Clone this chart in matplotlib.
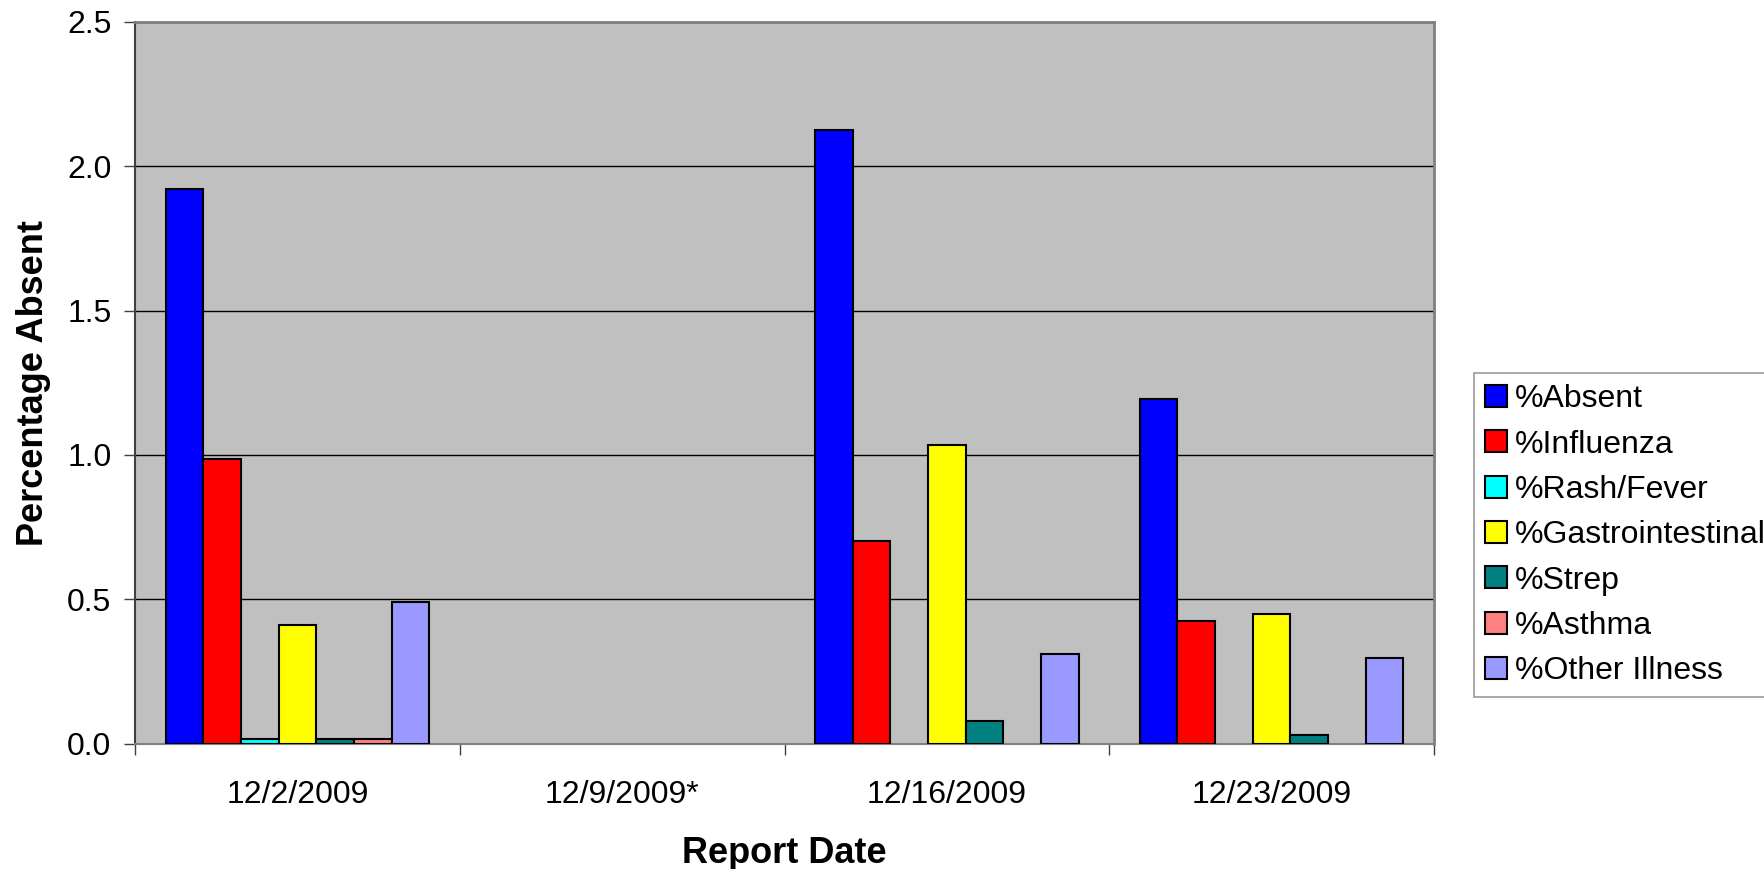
import numpy as np
import matplotlib
matplotlib.use('Agg')
import matplotlib.pyplot as plt
from matplotlib.patches import Patch

plt.rcParams['font.family'] = ['Liberation Sans', 'DejaVu Sans']

# data (nan = no report that week)
dates = ['12/2/2009', '12/9/2009*', '12/16/2009', '12/23/2009']
series = ['%Absent', '%Influenza', '%Rash/Fever', '%Gastrointestinal',
          '%Strep', '%Asthma', '%Other Illness']
absent = [1.922, np.nan, 2.127, 1.192]
influenza = [0.987, np.nan, 0.702, 0.424]
rash_fever = [0.015, np.nan, 0.0, 0.0]
gastro = [0.411, np.nan, 1.036, 0.448]
strep = [0.015, np.nan, 0.078, 0.028]
asthma = [0.015, np.nan, 0.0, 0.0]
other = [0.489, np.nan, 0.309, 0.296]
colors = ['#0000FF', '#FF0000', '#00FFFF', '#FFFF00', '#008080', '#FF8080', '#9999FF']

values = [absent, influenza, rash_fever, gastro, strep, asthma, other]

fig = plt.figure(figsize=(17.64, 8.69), dpi=100)
ax = fig.add_axes([135/1764, 1-743.5/869, 1299/1764, 721.5/869])
ax.set_facecolor('#C0C0C0')

x = np.arange(len(dates))
w = 0.116
for i, (vals, c) in enumerate(zip(values, colors)):
    v = np.array(vals, dtype=float)
    ok = ~np.isnan(v) & (v > 0)
    ax.bar(x[ok] + (i - 3) * w, v[ok], width=w, color=c,
           edgecolor='black', linewidth=1.5, zorder=3)

ax.set_xlim(-0.5, len(dates) - 0.5)
ax.set_ylim(0, 2.5)
ax.set_yticks(np.arange(0, 2.51, 0.5))
ax.set_yticklabels(['%.1f' % t for t in np.arange(0, 2.51, 0.5)])
ax.yaxis.grid(True, color='black', linewidth=1, zorder=1)
ax.set_axisbelow(True)

ax.set_xticks(x)
ax.set_xticklabels(dates)
ax.set_xticks(np.arange(-0.5, len(dates)), minor=True)
ax.tick_params(axis='x', which='major', length=0, pad=26, labelsize=23)
ax.tick_params(axis='x', which='minor', length=8, width=1, color='#404040')
ax.tick_params(axis='y', length=8, width=1, color='#404040', pad=9, labelsize=23)

for s in ['top', 'right']:
    ax.spines[s].set_color('#808080')
    ax.spines[s].set_linewidth(2)
ax.spines['left'].set_color('#404040')
ax.spines['left'].set_linewidth(1.5)
ax.spines['bottom'].set_color('#808080')
ax.spines['bottom'].set_linewidth(1.5)

ax.set_xlabel('Report Date', fontsize=26, fontweight='bold')
ax.xaxis.set_label_coords(0.5, -0.152)
ax.xaxis.label.set_va('center')
ax.set_ylabel('Percentage Absent', fontsize=26, fontweight='bold')
ax.yaxis.set_label_coords(-0.0778, 0.5)
ax.yaxis.label.set_va('center')

handles = [Patch(facecolor=c, edgecolor='black', linewidth=1.5) for c in colors]
leg = fig.legend(handles, series, loc='upper left',
                 bbox_to_anchor=(1474/1764, 1-373/869), fontsize=23,
                 frameon=True, fancybox=False, handlelength=0.68, handleheight=0.68,
                 handletextpad=0.25, labelspacing=0.48, borderpad=0.35,
                 borderaxespad=0)
leg.get_frame().set_edgecolor('#808080')
leg.get_frame().set_linewidth(1.2)

fig.savefig('out.png', dpi=100)
